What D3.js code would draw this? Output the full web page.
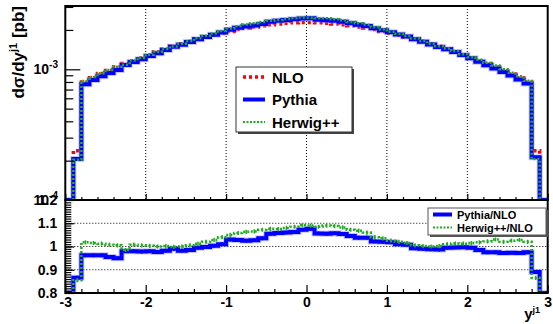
<!DOCTYPE html>
<html>
<head>
<meta charset="utf-8">
<script src="https://cdn.jsdelivr.net/npm/d3@7"></script>
<style>
  body { margin: 0; background: #fff; }
  text { font-family: "Liberation Sans", Arial, sans-serif; font-weight: bold; fill: #000; }
</style>
</head>
<body>
<div id="chart"></div>
<script>
// bin edges of y^j1 (60 bins of 0.1)
const binEdges = [-3.0, -2.9, -2.8, -2.7, -2.6, -2.5, -2.4, -2.3, -2.2, -2.1, -2.0,
  -1.9, -1.8, -1.7, -1.6, -1.5, -1.4, -1.3, -1.2, -1.1, -1.0,
  -0.9, -0.8, -0.7, -0.6, -0.5, -0.4, -0.3, -0.2, -0.1, 0.0,
  0.1, 0.2, 0.3, 0.4, 0.5, 0.6, 0.7, 0.8, 0.9, 1.0,
  1.1, 1.2, 1.3, 1.4, 1.5, 1.6, 1.7, 1.8, 1.9, 2.0,
  2.1, 2.2, 2.3, 2.4, 2.5, 2.6, 2.7, 2.8, 2.9, 3.0]

// dsigma/dy in units of 1e-3 pb
const nloVals = [0,
  0.238, 0.80, 0.86, 0.93, 0.98, 1.04, 1.11, 1.16, 1.22, 1.29,
  1.36, 1.43, 1.50, 1.57, 1.64, 1.71, 1.77, 1.83, 1.89, 1.95,
  2.02, 2.07, 2.11, 2.15, 2.19, 2.22, 2.25, 2.27, 2.28,
  2.28, 2.27, 2.25, 2.22, 2.19, 2.15, 2.11, 2.07, 2.02, 1.95,
  1.89, 1.83, 1.77, 1.71, 1.64, 1.57, 1.50, 1.43, 1.36, 1.29,
  1.22, 1.16, 1.10, 1.04, 0.98, 0.92, 0.86, 0.80, 0.238,
  0]
const pythiaVals = [0,
  0.206, 0.770, 0.827, 0.885, 0.936, 0.988, 1.078, 1.137, 1.193, 1.264,
  1.327, 1.404, 1.485, 1.542, 1.615, 1.701, 1.766, 1.835, 1.909, 2.009,
  2.077, 2.122, 2.167, 2.225, 2.310, 2.349, 2.385, 2.411, 2.444,
  2.453, 2.397, 2.374, 2.347, 2.308, 2.247, 2.190, 2.149, 2.064, 1.989,
  1.924, 1.848, 1.784, 1.696, 1.624, 1.551, 1.481, 1.423, 1.355, 1.286,
  1.214, 1.143, 1.073, 1.014, 0.953, 0.895, 0.836, 0.780, 0.212,
  0]
const herwigVals = [0,
  0.203, 0.814, 0.873, 0.931, 0.988, 1.045, 1.084, 1.169, 1.226, 1.294,
  1.360, 1.433, 1.497, 1.570, 1.648, 1.731, 1.805, 1.881, 1.966, 2.048,
  2.137, 2.200, 2.247, 2.305, 2.356, 2.387, 2.430, 2.463, 2.490,
  2.485, 2.463, 2.453, 2.415, 2.370, 2.305, 2.253, 2.194, 2.101, 2.018,
  1.937, 1.867, 1.797, 1.719, 1.643, 1.570, 1.503, 1.444, 1.378, 1.305,
  1.238, 1.181, 1.124, 1.071, 1.000, 0.943, 0.884, 0.816, 0.206,
  0]

// ratios to NLO
const pythiaRatio = [0,
  0.866, 0.962, 0.962, 0.962, 0.955, 0.950, 0.980, 0.980, 0.978, 0.980,
  0.976, 0.982, 0.990, 0.982, 0.985, 0.995, 0.998, 1.003, 1.010, 1.030,
  1.028, 1.025, 1.027, 1.035, 1.055, 1.058, 1.060, 1.062, 1.072,
  1.076, 1.056, 1.055, 1.057, 1.054, 1.045, 1.038, 1.038, 1.022, 1.020,
  1.018, 1.010, 1.008, 0.992, 0.990, 0.988, 0.987, 0.995, 0.996, 0.997,
  0.995, 0.985, 0.975, 0.975, 0.972, 0.973, 0.972, 0.975, 0.890,
  0]
const herwigRatio = [0,
  0.855, 1.018, 1.015, 1.012, 1.008, 1.005, 0.985, 1.008, 1.005, 1.003,
  1.000, 1.002, 0.998, 1.000, 1.005, 1.012, 1.020, 1.028, 1.040, 1.050,
  1.058, 1.063, 1.065, 1.072, 1.076, 1.075, 1.080, 1.085, 1.092,
  1.090, 1.085, 1.090, 1.088, 1.082, 1.072, 1.068, 1.060, 1.040, 1.035,
  1.025, 1.020, 1.015, 1.005, 1.002, 1.000, 1.002, 1.010, 1.013, 1.012,
  1.015, 1.018, 1.022, 1.030, 1.020, 1.025, 1.028, 1.020, 0.865,
  0]

const xTicks = [-3, -2, -1, 0, 1, 2, 3]
const xMinorTicks = [-2.8, -2.6, -2.4, -2.2, -1.8, -1.6, -1.4, -1.2, -0.8, -0.6, -0.4, -0.2,
  0.2, 0.4, 0.6, 0.8, 1.2, 1.4, 1.6, 1.8, 2.2, 2.4, 2.6, 2.8]
const logMinorTicks = [2e-4, 3e-4, 4e-4, 5e-4, 6e-4, 7e-4, 8e-4, 9e-4, 2e-3, 3e-3]
const ratioTicks = [0.8, 0.9, 1, 1.1, 1.2]
const ratioGrid = [0.9, 1, 1.1]

const svgWidth = 553
const svgHeight = 324
const panel = { left: 65.3, right: 547.7, top: 6, mid: 200, bottom: 293 }

let svg = d3.select("#chart").append("svg")
  .attr("width", svgWidth)
  .attr("height", svgHeight)

let x = d3.scaleLinear().domain([-3, 3]).range([panel.left, panel.right])
let yTop = d3.scaleLog().domain([1e-4, 3.05e-3]).range([panel.mid, panel.top])
let yRatio = d3.scaleLinear().domain([0.8, 1.2]).range([panel.bottom, panel.mid])

let defs = svg.append("defs")
defs.append("clipPath").attr("id", "clipTop").append("rect")
  .attr("x", panel.left).attr("y", panel.top)
  .attr("width", panel.right - panel.left).attr("height", panel.mid - panel.top - 1)
defs.append("clipPath").attr("id", "clipRatio").append("rect")
  .attr("x", panel.left).attr("y", panel.mid + 1)
  .attr("width", panel.right - panel.left).attr("height", panel.bottom - panel.mid - 2)

// step outline of a histogram
function histPath(vals, yScale, floor, unit) {
  let pts = vals.map((v, i) => [x(binEdges[i]), yScale(Math.max(v * unit, floor))])
  pts.push([x(binEdges[binEdges.length - 1]), pts[pts.length - 1][1]])
  return d3.line().curve(d3.curveStepAfter)(pts)
}

// grid
svg.append("g").selectAll("line").data([-2, -1, 0, 1, 2]).enter().append("line")
  .attr("x1", d => x(d)).attr("x2", d => x(d))
  .attr("y1", panel.top).attr("y2", panel.mid)
  .attr("stroke", "#000").attr("stroke-width", 1).attr("stroke-dasharray", "1,2")
svg.append("g").selectAll("line").data(ratioGrid).enter().append("line")
  .attr("x1", panel.left).attr("x2", panel.right)
  .attr("y1", d => yRatio(d)).attr("y2", d => yRatio(d))
  .attr("stroke", "#000").attr("stroke-width", 1).attr("stroke-dasharray", "1,2")

// top panel histograms
let topG = svg.append("g").attr("clip-path", "url(#clipTop)")
topG.append("path").attr("d", histPath(nloVals, yTop, 1e-4, 1e-3))
  .attr("fill", "none").attr("stroke", "#ff0000").attr("stroke-width", 3.5).attr("stroke-dasharray", "3,3")
topG.append("path").attr("d", histPath(pythiaVals, yTop, 1e-4, 1e-3))
  .attr("fill", "none").attr("stroke", "#8080ff").attr("stroke-width", 6).attr("opacity", 0.45)
topG.append("path").attr("d", histPath(pythiaVals, yTop, 1e-4, 1e-3))
  .attr("fill", "none").attr("stroke", "#0000ff").attr("stroke-width", 4)
topG.append("path").attr("d", histPath(herwigVals, yTop, 1e-4, 1e-3))
  .attr("fill", "none").attr("stroke", "#22aa22").attr("stroke-width", 2.5).attr("stroke-dasharray", "2,2")

// ratio panel
let ratioG = svg.append("g").attr("clip-path", "url(#clipRatio)")
ratioG.append("path").attr("d", histPath(pythiaRatio, yRatio, 0.8, 1))
  .attr("fill", "none").attr("stroke", "#8080ff").attr("stroke-width", 6).attr("opacity", 0.45)
ratioG.append("path").attr("d", histPath(pythiaRatio, yRatio, 0.8, 1))
  .attr("fill", "none").attr("stroke", "#0000ff").attr("stroke-width", 4)
ratioG.selectAll("line.errP").data(pythiaRatio.slice(1, -1)).enter().append("line")
  .attr("x1", (d, i) => x((binEdges[i + 1] + binEdges[i + 2]) / 2))
  .attr("x2", (d, i) => x((binEdges[i + 1] + binEdges[i + 2]) / 2))
  .attr("y1", d => yRatio(d - 0.008)).attr("y2", d => yRatio(d + 0.008))
  .attr("stroke", "#0000ff").attr("stroke-width", 2)
ratioG.append("path").attr("d", histPath(herwigRatio, yRatio, 0.8, 1))
  .attr("fill", "none").attr("stroke", "#22aa22").attr("stroke-width", 2.5).attr("stroke-dasharray", "2,2")
ratioG.selectAll("line.errH").data(herwigRatio.slice(1, -1)).enter().append("line")
  .attr("x1", (d, i) => x((binEdges[i + 1] + binEdges[i + 2]) / 2))
  .attr("x2", (d, i) => x((binEdges[i + 1] + binEdges[i + 2]) / 2))
  .attr("y1", d => yRatio(d - 0.009)).attr("y2", d => yRatio(d + 0.009))
  .attr("stroke", "#22aa22").attr("stroke-width", 1.5)

// axes ticks (pointing inward, ROOT style)
function tickAxis(axisFn, scale, values, size, transform) {
  let g = svg.append("g").attr("transform", transform)
    .call(axisFn(scale).tickValues(values).tickSize(size).tickFormat(""))
  g.select(".domain").remove()
  g.selectAll("line").attr("stroke", "#000").attr("stroke-width", 1.2)
  return g
}
tickAxis(d3.axisTop, x, xTicks, 6, `translate(0,${panel.mid})`)
tickAxis(d3.axisTop, x, xMinorTicks, 3, `translate(0,${panel.mid})`)
tickAxis(d3.axisTop, x, xTicks, 8, `translate(0,${panel.bottom})`)
tickAxis(d3.axisTop, x, xMinorTicks, 4, `translate(0,${panel.bottom})`)
tickAxis(d3.axisRight, yTop, [1e-3], 15, `translate(${panel.left},0)`)
tickAxis(d3.axisRight, yTop, logMinorTicks, 8, `translate(${panel.left},0)`)
tickAxis(d3.axisRight, yRatio, ratioTicks, 9, `translate(${panel.left},0)`)
tickAxis(d3.axisRight, yRatio, d3.range(81, 120).map(d => d / 100), 6, `translate(${panel.left},0)`)

// frames
svg.append("rect").attr("x", panel.left).attr("y", panel.top)
  .attr("width", panel.right - panel.left).attr("height", panel.mid - panel.top)
  .attr("fill", "none").attr("stroke", "#000").attr("stroke-width", 2)
svg.append("rect").attr("x", panel.left).attr("y", panel.mid)
  .attr("width", panel.right - panel.left).attr("height", panel.bottom - panel.mid)
  .attr("fill", "none").attr("stroke", "#000").attr("stroke-width", 2)

// x tick labels
let xLab = svg.append("g").attr("transform", `translate(0,${panel.bottom})`)
  .call(d3.axisBottom(x).tickValues(xTicks).tickSize(0).tickPadding(4).tickFormat(d => String(d)))
xLab.select(".domain").remove()
xLab.selectAll("text").style("font-size", "14px").style("font-family", "Liberation Sans, Arial, sans-serif")
  .style("font-weight", "bold").attr("fill", "#000")

// ratio y labels
let yLab = svg.append("g").attr("transform", `translate(${panel.left},0)`)
  .call(d3.axisLeft(yRatio).tickValues(ratioTicks).tickSize(0).tickPadding(8).tickFormat(d => String(d)))
yLab.select(".domain").remove()
yLab.selectAll("text").style("font-size", "14px").style("font-family", "Liberation Sans, Arial, sans-serif")
  .style("font-weight", "bold").attr("fill", "#000")

// log labels 10^-3, 10^-4
function powLabel(val, exp) {
  let t = svg.append("text").attr("x", 58).attr("y", yTop(val) + 5)
    .attr("text-anchor", "end").style("font-size", "14px")
  t.append("tspan").text("10")
  t.append("tspan").attr("dy", -6).style("font-size", "10px").text(exp)
}
powLabel(1e-3, "-3")
powLabel(1e-4, "-4")

// axis titles
let yTitle = svg.append("text").attr("transform", "translate(24,6) rotate(-90)")
  .attr("text-anchor", "end").style("font-size", "17px")
yTitle.append("tspan").text("dσ/dy")
yTitle.append("tspan").attr("dy", -7).style("font-size", "11px").text("j1")
yTitle.append("tspan").attr("dy", 7).text(" [pb]")

let xTitle = svg.append("text").attr("x", 540).attr("y", 319)
  .attr("text-anchor", "end").style("font-size", "15px")
xTitle.append("tspan").text("y")
xTitle.append("tspan").attr("dy", -6).style("font-size", "9px").text("j1")

// legend (top)
const legendTop = [
  { label: "NLO", color: "#ff0000", width: 3.5, dash: "3,3" },
  { label: "Pythia", color: "#0000ff", width: 4, dash: null },
  { label: "Herwig++", color: "#22aa22", width: 2, dash: "2,1.5" }
]
svg.append("rect").attr("x", 238).attr("y", 69).attr("width", 116).attr("height", 65).attr("fill", "#444")
svg.append("rect").attr("x", 236).attr("y", 67).attr("width", 116).attr("height", 65)
  .attr("fill", "#fff").attr("stroke", "#333").attr("stroke-width", 1)
legendTop.forEach((d, i) => {
  let cy = 77 + i * 22.5
  svg.append("line").attr("x1", 243).attr("x2", 265).attr("y1", cy).attr("y2", cy)
    .attr("stroke", d.color).attr("stroke-width", d.width).attr("stroke-dasharray", d.dash)
  svg.append("text").attr("x", 272).attr("y", cy + 5.5).style("font-size", "15px").text(d.label)
})

// legend (ratio)
const legendRatio = [
  { label: "Pythia/NLO", color: "#0000ff", width: 4, dash: null },
  { label: "Herwig++/NLO", color: "#22aa22", width: 2, dash: "2,1.5" }
]
svg.append("rect").attr("x", 430).attr("y", 210).attr("width", 118).attr("height", 27).attr("fill", "#555")
svg.append("rect").attr("x", 428).attr("y", 208).attr("width", 118).attr("height", 27)
  .attr("fill", "#fff").attr("stroke", "#555").attr("stroke-width", 1)
legendRatio.forEach((d, i) => {
  let cy = 214.5 + i * 13
  svg.append("line").attr("x1", 433).attr("x2", 452).attr("y1", cy).attr("y2", cy)
    .attr("stroke", d.color).attr("stroke-width", d.width).attr("stroke-dasharray", d.dash)
  svg.append("text").attr("x", 457).attr("y", cy + 4).style("font-size", "11px").text(d.label)
})
</script>
</body>
</html>
